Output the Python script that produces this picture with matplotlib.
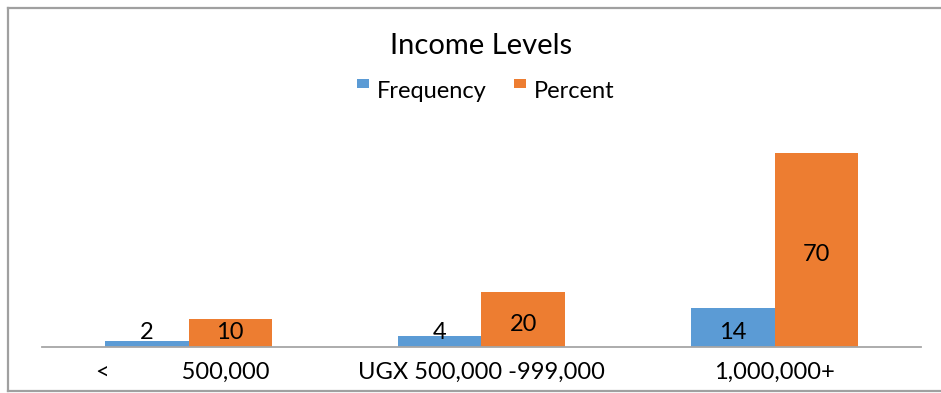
import matplotlib
matplotlib.use("Agg")
import matplotlib.pyplot as plt
from matplotlib.patches import Rectangle
from matplotlib.lines import Line2D

plt.rcParams['font.family'] = ['Lato', 'DejaVu Sans']

categories = ["<            500,000  ", "UGX 500,000 -999,000", "1,000,000+"]
frequency = [2, 4, 14]
percent = [10, 20, 70]
series_names = ["Frequency", "Percent"]
colors = ["#5B9BD5", "#ED7D31"]

W, H = 941, 393
fig = plt.figure(figsize=(W / 100, H / 100), dpi=100)

# plot area in pixel terms
left, right, bottom, top = 42, 921, 347, 125
ax = fig.add_axes([left / W, (H - bottom) / H, (right - left) / W, (bottom - top) / H])

bw = 0.284
x = range(len(categories))
for i, (f, p) in enumerate(zip(frequency, percent)):
    ax.bar(i - bw / 2, f, width=bw, color=colors[0], linewidth=0)
    ax.bar(i + bw / 2, p, width=bw, color=colors[1], linewidth=0)

def label_y(v):
    return max(v / 2 - 1.8, 5.4)

for i, (f, p) in enumerate(zip(frequency, percent)):
    ax.text(i - bw / 2, label_y(f), str(f), ha='center', va='center', fontsize=17, color='black')
    ax.text(i + bw / 2, label_y(p), str(p), ha='center', va='center', fontsize=17, color='black')

ax.set_xlim(-0.5, 2.5)
ax.set_ylim(0, 80)
ax.set_yticks([])
ax.set_xticks(list(x))
ax.set_xticklabels(categories, fontsize=17)
ax.tick_params(axis='x', length=0, pad=11)
for s in ['top', 'right', 'left']:
    ax.spines[s].set_visible(False)
ax.spines['bottom'].set_color('#A6A6A6')
ax.spines['bottom'].set_linewidth(1.3)

# title
fig.text(481 / W, 1 - 46 / H, "Income Levels", ha='center', va='center', fontsize=21)

# legend
def legend_item(x0, name, color):
    fig.patches.append(Rectangle((x0 / W, 1 - 88 / H), 12 / W, 9 / H, transform=fig.transFigure,
                                 color=color, linewidth=0))
    fig.text((x0 + 20) / W, 1 - 92 / H, name, ha='left', va='center', fontsize=17)

legend_item(357, series_names[0], colors[0])
legend_item(514, series_names[1], colors[1])

# outer frame: top, left and bottom edges
fx0, fy_top, fy_bot = 8 / W, 1 - 8 / H, 2 / H
for xs, ys in [([fx0, 1], [fy_top, fy_top]),
               ([fx0, fx0], [fy_bot, fy_top]),
               ([fx0, 1], [fy_bot, fy_bot])]:
    fig.add_artist(Line2D(xs, ys, transform=fig.transFigure, color='#A0A0A0', linewidth=1.6))

fig.savefig("out.png", dpi=100)
